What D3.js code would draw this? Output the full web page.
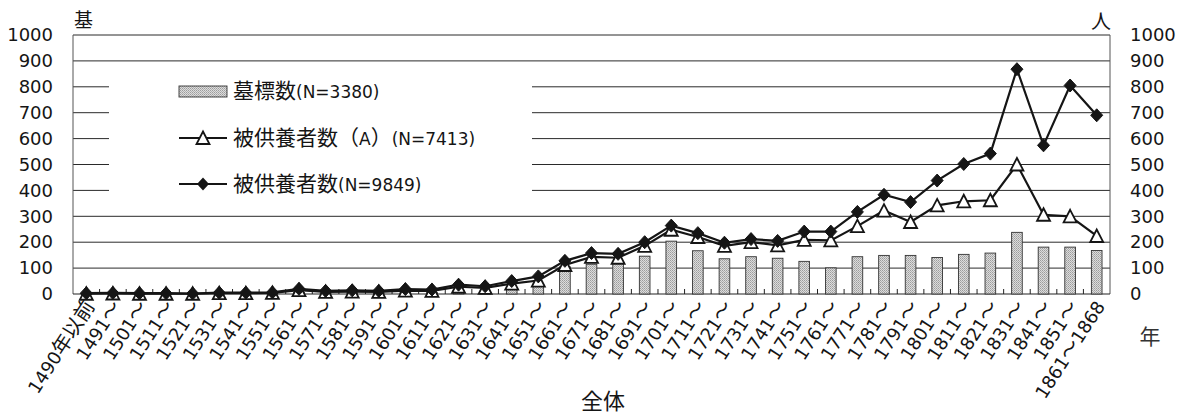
<!DOCTYPE html>
<html><head><meta charset="utf-8">
<script src="https://cdn.jsdelivr.net/npm/d3@7"></script>
<style>body{margin:0;background:#fff;} svg{display:block}</style>
</head><body><svg id="c" width="1185" height="416"></svg>
<script>
const categories = ["1490年以前","1491～","1501～","1511～","1521～","1531～","1541～","1551～","1561～","1571～","1581～","1591～","1601～","1611～","1621～","1631～","1641～","1651～","1661～","1671～","1681～","1691～","1701～","1711～","1721～","1731～","1741～","1751～","1761～","1771～","1781～","1791～","1801～","1811～","1821～","1831～","1841～","1851～","1861～1868"];
const gravestones = [2,2,1,1,1,2,2,3,6,4,5,4,6,6,12,10,22,38,105,115,118,146,204,167,136,144,138,126,101,144,149,149,141,153,158,238,181,181,168];
const personsA = [1,2,1,1,1,3,3,4,15,8,9,8,13,12,28,24,40,52,112,143,140,186,248,220,186,200,188,209,207,262,322,278,342,358,362,500,306,300,224];
const persons = [3,4,3,3,2,5,5,6,20,12,14,12,19,17,36,30,50,68,128,158,155,200,264,235,198,212,205,241,241,317,383,355,438,502,542,868,574,805,690];
const yTicks = [0,100,200,300,400,500,600,700,800,900,1000];
const legendLabels = ["墓標数(N=3380)","被供養者数（A）(N=7413)","被供養者数(N=9849)"];
const leftUnit = "基", rightUnit = "人", xUnit = "年", title = "全体";

const LATIN = "'DejaVu Sans','Noto Sans CJK JP',sans-serif";
const CJK = "'Noto Sans CJK JP',sans-serif";
const L = 73, R = 1110, T = 35, B = 294;
const INK = "#151515";

const svg = d3.select("#c");
const defs = svg.append("defs");
const pat = defs.append("pattern").attr("id","stip").attr("patternUnits","userSpaceOnUse").attr("width",2).attr("height",2);
pat.append("rect").attr("width",2).attr("height",2).attr("fill","#dcdcdc");
pat.append("rect").attr("width",1).attr("height",1).attr("fill","#9c9c9c");
pat.append("rect").attr("x",1).attr("y",1).attr("width",1).attr("height",1).attr("fill","#b0b0b0");

const x = d3.scaleBand().domain(categories).range([L, R]);
const y = d3.scaleLinear().domain([0, 1000]).range([B, T]);
const cx = c => x(c) + x.bandwidth() / 2;

const cjkRe = /[\u3000-\u9fff\uff00-\uffef]/;
function rich(sel, str, latinSize, cjkSize) {
  const runs = str.match(/[\u3000-\u9fff\uff00-\uffef]+|[^\u3000-\u9fff\uff00-\uffef]+/g);
  runs.forEach(r => {
    const isC = cjkRe.test(r);
    sel.append("tspan").text(r).attr("font-family", isC ? CJK : LATIN).attr("font-size", isC ? cjkSize : latinSize);
  });
}

// gridlines
svg.append("g").selectAll("line").data(yTicks.filter(v => v > 0)).join("line")
  .attr("x1", L).attr("x2", R).attr("y1", d => y(d)).attr("y2", d => y(d))
  .attr("stroke", "#2a2a2a").attr("stroke-width", 1);

// legend background (covers gridlines)
svg.append("rect").attr("x", 109).attr("y", 70).attr("width", 423).attr("height", 135).attr("fill", "#fff");

// axes frame
svg.append("line").attr("x1", L).attr("x2", L).attr("y1", T).attr("y2", B).attr("stroke", "#555").attr("stroke-width", 1);
svg.append("line").attr("x1", R).attr("x2", R).attr("y1", T).attr("y2", B).attr("stroke", "#555").attr("stroke-width", 1);
svg.append("line").attr("x1", L).attr("x2", R).attr("y1", B).attr("y2", B).attr("stroke", "#222").attr("stroke-width", 1.2);

// x ticks at band boundaries (inside, upward)
svg.append("g").selectAll("line").data(categories.slice(1)).join("line")
  .attr("x1", d => x(d)).attr("x2", d => x(d)).attr("y1", B).attr("y2", B - 5)
  .attr("stroke", "#222").attr("stroke-width", 1);

// y axes
const fmt = d3.format("d");
const ya = svg.append("g").attr("transform", `translate(${L},0)`).call(d3.axisLeft(y).tickValues(yTicks).tickFormat(fmt).tickSize(0).tickPadding(20));
ya.select(".domain").remove();
ya.selectAll("text").attr("font-family", LATIN).attr("font-size", 18).attr("fill", INK);
const yb = svg.append("g").attr("transform", `translate(${R},0)`).call(d3.axisRight(y).tickValues(yTicks).tickFormat(fmt).tickSize(0).tickPadding(20));
yb.select(".domain").remove();
yb.selectAll("text").attr("font-family", LATIN).attr("font-size", 18).attr("fill", INK);

// bars
const barW = x.bandwidth() * 0.4;
svg.append("g").selectAll("rect").data(categories).join("rect")
  .attr("x", (d) => cx(d) - barW / 2).attr("width", barW)
  .attr("y", (d, i) => y(gravestones[i])).attr("height", (d, i) => B - y(gravestones[i]))
  .attr("fill", "url(#stip)").attr("stroke", "#333").attr("stroke-width", 0.9);

const triPath = "M0,-6.5L6.5,6L-6.5,6Z";
const diaPath = "M0,-6.5L6,0L0,6.5L-6,0Z";
const lineGen = vals => d3.line().x((d, i) => cx(categories[i])).y(d => y(d))(vals);

// series A (triangles)
svg.append("path").attr("d", lineGen(personsA)).attr("fill", "none").attr("stroke", INK).attr("stroke-width", 2.2);
svg.append("g").selectAll("path").data(personsA).join("path")
  .attr("transform", (d, i) => `translate(${cx(categories[i])},${y(d)})`)
  .attr("d", triPath).attr("fill", "#fff").attr("stroke", INK).attr("stroke-width", 1.8);

// series total (diamonds)
svg.append("path").attr("d", lineGen(persons)).attr("fill", "none").attr("stroke", INK).attr("stroke-width", 2.2);
svg.append("g").selectAll("path").data(persons).join("path")
  .attr("transform", (d, i) => `translate(${cx(categories[i])},${y(d)})`)
  .attr("d", diaPath).attr("fill", INK).attr("stroke", INK).attr("stroke-width", 1);

// x labels
const xl = svg.append("g").selectAll("g").data(categories).join("g")
  .attr("transform", d => `translate(${cx(d) + 4},303) rotate(-57)`);
xl.each(function(d) {
  const t = d3.select(this).append("text").attr("text-anchor", "end").attr("y", 6).attr("fill", INK);
  rich(t, d, 18, 20);
});

// legend
const lg = svg.append("g");
lg.append("rect").attr("x", 179).attr("y", 86).attr("width", 48).attr("height", 11).attr("fill", "url(#stip)").attr("stroke", "#333").attr("stroke-width", 0.9);
lg.append("line").attr("x1", 179).attr("x2", 227).attr("y1", 138).attr("y2", 138).attr("stroke", INK).attr("stroke-width", 2);
lg.append("path").attr("transform", "translate(203,138)").attr("d", triPath).attr("fill", "#fff").attr("stroke", INK).attr("stroke-width", 1.8);
lg.append("line").attr("x1", 179).attr("x2", 227).attr("y1", 184).attr("y2", 184).attr("stroke", INK).attr("stroke-width", 2);
lg.append("path").attr("transform", "translate(203,184)").attr("d", diaPath).attr("fill", INK);
[98, 145, 191].forEach((yy, i) => {
  const t = lg.append("text").attr("x", 233).attr("y", yy).attr("fill", INK);
  rich(t, legendLabels[i], 17, 21);
});

// unit labels and title
svg.append("text").attr("x", 74).attr("y", 27).attr("font-family", CJK).attr("font-size", 19).attr("fill", INK).text(leftUnit);
svg.append("text").attr("x", 1111).attr("y", 29).attr("text-anchor", "end").attr("font-family", CJK).attr("font-size", 20).attr("fill", INK).text(rightUnit);
svg.append("text").attr("x", 1150).attr("y", 344).attr("text-anchor", "middle").attr("font-family", CJK).attr("font-size", 21).attr("fill", "#333").text(xUnit);
svg.append("text").attr("x", 603).attr("y", 409).attr("text-anchor", "middle").attr("font-family", CJK).attr("font-size", 22).attr("fill", INK).text(title);
</script>
</body></html>
